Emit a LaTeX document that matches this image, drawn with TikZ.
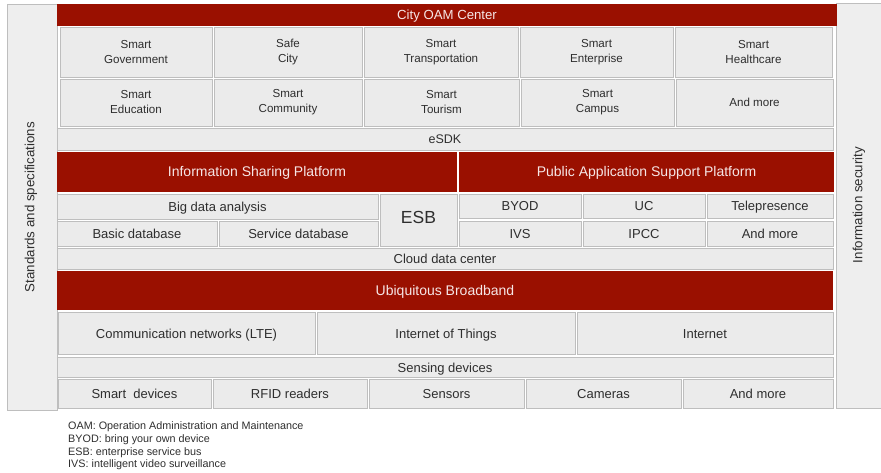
\documentclass[tikz,border=0pt]{standalone}
\usepackage{fontspec}
\setmainfont{Liberation Sans}
\definecolor{bandred}{HTML}{9A1000}
\definecolor{bandtext}{HTML}{F6E6E6}
\definecolor{cellfill}{HTML}{EBEBEB}
\definecolor{cellline}{HTML}{BEBEBE}
\definecolor{sidefill}{HTML}{EEEEEE}
\definecolor{inktext}{HTML}{2E2E2E}

\tikzset{
  base/.style={anchor=north west, inner sep=0pt, outer sep=0pt, align=center},
  % single-line labels sit a little below the middle of their block
  oneline/.style={text height=1.1em, text depth=0.1em},
  cell/.style={base, oneline, fill=cellfill, draw=cellline, line width=0.9pt, text=inktext,
    font=\fontsize{13}{15}\selectfont},
  appcell/.style={base, fill=cellfill, draw=cellline, line width=0.9pt, text=inktext,
    font=\fontsize{11.6}{15}\selectfont},
  band/.style={base, oneline, fill=bandred, text=bandtext, font=\fontsize{14}{16}\selectfont},
  side/.style={base, fill=sidefill, draw=cellline, line width=0.9pt},
  sidelabel/.style={rotate=90, text=inktext, font=\fontsize{13.3}{15}\selectfont},
  note/.style={anchor=north west, inner sep=0pt, align=left, text=inktext,
    font=\fontsize{10.8}{12.8}\selectfont},
}

% \layerbox{style}{name}{x1}{y1}{x2}{y2}{text}: block from top-left to bottom-right
\newcommand\layerbox[7]{%
  \node[#1, minimum width={(#5-#3)*1pt}, minimum height={(#6-#4)*1pt}] (#2) at (#3,#4) {#7};}

\begin{document}
\begin{tikzpicture}[x=1pt, y=-1pt]
  \useasboundingbox (0,0) rectangle (881,473);

  % side columns
  \layerbox{side}{stdcol}{7}{4}{57}{410}{}
  \layerbox{side}{seccol}{836}{3}{886}{408}{}
  \node[sidelabel] (stdtxt) at (31,207) {Standards and specifications};
  \node[sidelabel] (sectxt) at (859,205) {Information security};

  % operations centre and applications
  \layerbox{band,font=\fontsize{13.2}{15}\selectfont}{oam}{57}{4}{837}{26}{City OAM Center}
  \layerbox{appcell}{gov}{60}{27}{212}{77}{Smart\\Government}
  \layerbox{appcell}{safe}{214}{27}{362}{77}{Safe\\City}
  \layerbox{appcell}{trans}{364}{27}{518}{77}{Smart\\Transportation}
  \layerbox{appcell}{ent}{520}{27}{673}{77}{Smart\\Enterprise}
  \layerbox{appcell}{health}{675}{27}{832}{77}{Smart\\Healthcare}
  \layerbox{appcell}{edu}{60}{79}{212}{126}{Smart\\Education}
  \layerbox{appcell}{comm}{214}{79}{362}{126}{Smart\\Community}
  \layerbox{appcell}{tour}{364}{79}{519}{126}{Smart\\Tourism}
  \layerbox{appcell}{campus}{521}{79}{674}{126}{Smart\\Campus}
  \layerbox{appcell}{appmore}{676}{79}{833}{126}{And more}
  \layerbox{cell,font=\fontsize{12.5}{15}\selectfont}{esdk}{57}{128}{833}{150}{eSDK}

  % platforms
  \layerbox{band}{isp}{57}{152}{457}{192}{Information Sharing Platform}
  \layerbox{band}{pasp}{459}{152}{834}{192}{Public Application Support Platform}
  \layerbox{cell}{bigdata}{57}{194}{378}{219}{Big data analysis}
  \layerbox{cell}{basicdb}{57}{221}{217}{246}{Basic database}
  \layerbox{cell}{servdb}{219}{221}{378}{246}{Service database}
  \layerbox{cell,font=\fontsize{17.5}{19}\selectfont,text height=0.9em}{esb}{380}{194}{457}{246}{ESB}
  \layerbox{cell}{byod}{459}{194}{581}{218}{BYOD}
  \layerbox{cell}{uc}{583}{194}{705}{218}{UC}
  \layerbox{cell}{tele}{707}{194}{833}{218}{Telepresence}
  \layerbox{cell}{ivs}{459}{221}{581}{246}{IVS}
  \layerbox{cell}{ipcc}{583}{221}{705}{246}{IPCC}
  \layerbox{cell}{platmore}{707}{221}{833}{246}{And more}
  \layerbox{cell}{cloud}{57}{248}{833}{269}{Cloud data center}

  % network layer
  \layerbox{band}{ubb}{57}{271}{833}{310}{Ubiquitous Broadband}
  \layerbox{cell}{lte}{58}{312}{315}{354}{Communication networks (LTE)}
  \layerbox{cell}{iot}{317}{312}{575}{354}{Internet of Things}
  \layerbox{cell}{inet}{577}{312}{833}{354}{Internet}

  % sensing layer
  \layerbox{cell}{sensing}{57}{357}{833}{377}{Sensing devices}
  \layerbox{cell}{smartdev}{58}{379}{211}{408}{Smart\ \ devices}
  \layerbox{cell}{rfid}{213}{379}{367}{408}{RFID readers}
  \layerbox{cell}{sensors}{369}{379}{524}{408}{Sensors}
  \layerbox{cell}{cameras}{526}{379}{681}{408}{Cameras}
  \layerbox{cell}{devmore}{683}{379}{833}{408}{And more}

  % abbreviations
  \node[note] (abbr) at (68,421.5) {OAM: Operation Administration and Maintenance\\
    BYOD: bring your own device\\
    ESB: enterprise service bus\\
    IVS: intelligent video surveillance};
\end{tikzpicture}
\end{document}
